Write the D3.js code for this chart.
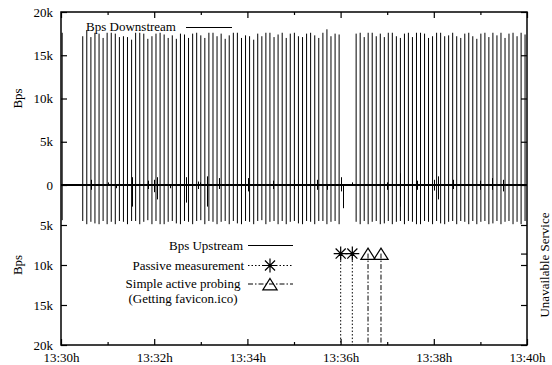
<!DOCTYPE html>
<html>
<head>
<meta charset="utf-8">
<script src="https://cdn.jsdelivr.net/npm/d3@7"></script>
<style>
  body { margin: 0; background: #fff; }
  text { font-family: "Liberation Serif", "Times New Roman", serif; font-size: 13px; fill: #000; }
</style>
</head>
<body>
<svg id="chart" width="552" height="365"></svg>
<script>
// seconds after 13:30:00 for each traffic burst
const spikeTimes = [1.5,
  28.0, 33.2, 38.5, 43.7, 49.0, 54.2, 59.4, 64.7, 69.9, 75.2, 80.4, 85.6, 90.9, 96.1, 101.4, 106.6,
  111.8, 117.1, 122.3, 127.6, 132.8, 138.0, 143.3, 148.5, 153.8, 159.0, 164.2, 169.5, 174.7, 180.0,
  185.2, 190.4, 195.7, 200.9, 206.2, 211.4, 216.6, 221.9, 227.1, 232.4, 237.6, 242.8, 248.1, 253.3,
  258.6, 263.8, 269.0, 274.3, 279.5, 284.8, 290.0, 295.2, 300.5, 305.7, 311.0, 316.2, 321.4, 326.7,
  331.9, 337.2, 342.4, 347.6, 352.9, 358.1,
  380.0, 385.2, 390.4, 395.5, 400.7, 405.9, 411.1, 416.3, 421.4, 426.6, 431.8, 437.0, 442.2, 447.3,
  452.5, 457.7, 462.9, 468.1, 473.2, 478.4, 483.6, 488.8, 494.0, 499.1, 504.3, 509.5, 514.7, 519.9,
  525.0, 530.2, 535.4, 540.6, 545.8, 550.9, 556.1, 561.3, 566.5, 571.7, 576.8, 582.0, 587.2, 592.4, 597.5];

// kBps
const downstreamK = [17.6,
  17.2, 17.9, 17.1, 17.6, 17.5, 17.0, 17.6, 17.6, 17.5, 17.1, 17.2, 17.1, 16.8, 17.6, 17.6, 17.5,
  16.9, 17.2, 17.5, 17.6, 17.4, 17.0, 17.3, 16.9, 17.5, 17.4, 17.0, 17.5, 17.6, 17.3, 17.0, 17.6,
  17.6, 17.2, 17.5, 16.9, 17.3, 17.6, 17.6, 17.0, 17.3, 17.2, 16.8, 17.5, 17.2, 17.6, 17.6, 17.1,
  17.4, 17.6, 17.0, 17.5, 17.6, 17.2, 17.1, 17.5, 17.6, 17.3, 17.0, 17.6, 18.0, 17.2, 17.5, 17.4,
  17.5, 17.6, 17.1, 17.6, 17.6, 17.2, 17.5, 17.1, 17.6, 17.6, 17.2, 17.0, 17.5, 17.6, 17.1, 17.6,
  17.6, 17.5, 17.0, 17.2, 17.6, 17.6, 17.2, 17.3, 17.6, 17.2, 17.0, 17.5, 17.6, 17.2, 16.9, 17.5,
  17.6, 17.1, 17.6, 17.3, 17.6, 17.0, 17.5, 17.6, 17.2, 17.6, 17.4];

const upstreamK = [4.4,
  4.5, 4.9, 4.6, 4.8, 4.9, 4.5, 4.9, 4.6, 4.9, 4.5, 4.6, 4.9, 4.5, 4.5, 4.9, 4.6,
  4.4, 4.9, 4.5, 4.9, 4.9, 4.6, 4.5, 4.8, 4.9, 4.5, 4.6, 4.9, 4.5, 4.4, 4.9, 4.5,
  4.6, 4.9, 4.6, 4.5, 4.9, 4.5, 4.8, 4.9, 4.5, 4.6, 4.9, 4.5, 4.4, 4.9, 4.6, 4.5,
  4.9, 4.5, 4.9, 4.6, 4.5, 4.8, 4.9, 4.5, 4.6, 4.9, 4.5, 4.5, 4.9, 4.6, 4.5, 4.9,
  4.6, 4.9, 4.5, 4.9, 4.6, 4.5, 4.9, 4.8, 4.5, 4.9, 4.6, 4.5, 4.9, 4.5, 4.6, 4.9,
  4.9, 4.5, 4.6, 4.9, 4.5, 4.8, 4.9, 4.6, 4.5, 4.9, 4.5, 4.6, 4.9, 4.5, 4.9, 4.6,
  4.5, 4.9, 4.8, 4.5, 4.9, 4.6, 4.5, 4.9, 4.6, 4.9, 4.5];

// small packets between the bursts
const smallTimes = [38.2, 60.9, 70.8, 91.8, 112.4, 120.1, 124.0, 140.3, 161.0, 176.0, 179.0, 187.6,
  203.4, 241.2, 273.4, 300.4, 330.0, 342.1, 360.1, 363.5, 374.3, 419.4, 436.5, 458.0, 472.9, 480.3,
  485.0, 504.3, 539.5, 554.6, 569.5];
const smallDownK = [0.6, 0.3, 0.0, 0.9, 0.5, 0.6, 0.9, 0.0, 0.9, 0.4, 0.3, 1.0, 0.8, 0.8, 0.5, 0.6,
  0.6, 0.0, 0.9, 0.0, 0.3, 0.3, 1.35, 0.5, 0.0, 0.6, 1.0, 0.6, 0.5, 0.8, 0.6];
const smallUpK = [0.6, 0.0, 0.4, 2.7, 0.5, 0.9, 1.8, 0.4, 2.2, 0.5, 0.0, 2.7, 0.5, 0.8, 0.5, 0.5,
  0.6, 0.6, 0.8, 2.9, 0.0, 0.6, 2.7, 0.6, 0.6, 0.7, 1.8, 0.5, 0.6, 0.6, 0.8];

const passiveTimes = [360.1, 375.1];
const activeTimes = [395.3, 412.0];
const unavailable = 1;

const yTickValues = [0, 5, 10, 15, 20];
const xMajorTicks = [0, 120, 240, 360, 480, 600];
const xMinorTicks = [60, 180, 300, 420, 540];
const xTickLabels = ['13:30h', '13:32h', '13:34h', '13:36h', '13:38h', '13:40h'];

const svg = d3.select('#chart');
const pLeft = 61, pRight = 527, pTop = 12, pZero = 185, pBottom = 345;

const x = d3.scaleLinear().domain([0, 600]).range([pLeft, pRight]);
const yDown = d3.scaleLinear().domain([0, 20]).range([pZero, pTop]);
const yUp = d3.scaleLinear().domain([0, 20]).range([pZero, pBottom]);
const yAvail = d3.scaleLinear().domain([0, 1.75]).range([pBottom, pZero]);

const kFmt = v => v === 0 ? '0' : v + 'k';

// impulses
const bursts = spikeTimes.map((t, i) => ({ t, down: downstreamK[i], up: upstreamK[i] }));
const small = smallTimes.map((t, i) => ({ t, down: smallDownK[i], up: smallUpK[i] }));

const g = svg.append('g').attr('stroke', '#000').attr('stroke-width', 1);
g.selectAll('.dn').data(bursts).enter().append('line')
  .attr('x1', d => x(d.t)).attr('x2', d => x(d.t))
  .attr('y1', yDown(0)).attr('y2', d => yDown(d.down));
g.selectAll('.up').data(bursts).enter().append('line')
  .attr('x1', d => x(d.t)).attr('x2', d => x(d.t))
  .attr('y1', yUp(0)).attr('y2', d => yUp(d.up));
g.selectAll('.sdn').data(small.filter(d => d.down > 0)).enter().append('line')
  .attr('x1', d => Math.round(x(d.t)) + 0.5).attr('x2', d => Math.round(x(d.t)) + 0.5)
  .attr('y1', yDown(0)).attr('y2', d => yDown(d.down));
g.selectAll('.sup').data(small.filter(d => d.up > 0)).enter().append('line')
  .attr('x1', d => Math.round(x(d.t)) + 0.5).attr('x2', d => Math.round(x(d.t)) + 0.5)
  .attr('y1', yUp(0)).attr('y2', d => yUp(d.up));

// markers
function asterisk(r) {
  const a = r * 0.72;
  return `M${-r},0H${r}M0,${-r}V${r}M${-a},${-a}L${a},${a}M${-a},${a}L${a},${-a}`;
}
function triangle(r) {
  return `M0,${-r}L${r * 1.1},${r * 0.75}H${-r * 1.1}Z`;
}

const mk = svg.append('g').attr('stroke', '#000').attr('fill', 'none');
mk.selectAll('.pl').data(passiveTimes).enter().append('line')
  .attr('x1', d => x(d)).attr('x2', d => x(d))
  .attr('y1', yAvail(unavailable)).attr('y2', yAvail(0))
  .attr('stroke-width', 1).attr('stroke-dasharray', '1.5,2');
mk.selectAll('.al').data(activeTimes).enter().append('line')
  .attr('x1', d => x(d)).attr('x2', d => x(d))
  .attr('y1', yAvail(unavailable)).attr('y2', yAvail(0))
  .attr('stroke-width', 1).attr('stroke-dasharray', '5,2,1.5,2');
mk.selectAll('.pm').data(passiveTimes).enter().append('path')
  .attr('d', asterisk(7))
  .attr('transform', d => `translate(${x(d)},${yAvail(unavailable)})`)
  .attr('stroke-width', 1.2);
mk.selectAll('.am').data(activeTimes).enter().append('path')
  .attr('d', triangle(6.5))
  .attr('transform', d => `translate(${x(d)},${yAvail(unavailable) + 1})`)
  .attr('stroke-width', 1.2);

// axes
function styleAxis(sel) {
  sel.select('.domain').remove();
  sel.selectAll('line').attr('stroke', '#000').attr('stroke-width', 1.2);
  sel.selectAll('text').attr('font-size', null).attr('font-family', null).attr('fill', '#000');
}

svg.append('g').attr('transform', `translate(${pLeft},0)`)
  .call(d3.axisLeft(yDown).tickValues(yTickValues).tickFormat(kFmt).tickSizeInner(-6).tickPadding(8))
  .call(styleAxis);
svg.append('g').attr('transform', `translate(${pLeft},0)`)
  .call(d3.axisLeft(yUp).tickValues(yTickValues.slice(1)).tickFormat(kFmt).tickSizeInner(-6).tickPadding(8))
  .call(styleAxis);
svg.append('g').attr('transform', `translate(${pRight},0)`)
  .call(d3.axisRight(yDown).tickValues(yTickValues).tickFormat('').tickSizeInner(-6))
  .call(styleAxis);
svg.append('g').attr('transform', `translate(${pRight},0)`)
  .call(d3.axisRight(yUp).tickValues(yTickValues.slice(1)).tickFormat('').tickSizeInner(-6))
  .call(styleAxis);
svg.append('g').attr('transform', `translate(${pRight},0)`)
  .call(d3.axisRight(yAvail).tickValues([unavailable]).tickFormat('').tickSizeInner(-6))
  .call(styleAxis);

svg.append('g').attr('transform', `translate(0,${pBottom})`)
  .call(d3.axisBottom(x).tickValues(xMajorTicks).tickFormat((d, i) => xTickLabels[i]).tickSizeInner(-6).tickPadding(8))
  .call(styleAxis);
svg.append('g').attr('transform', `translate(0,${pBottom})`)
  .call(d3.axisBottom(x).tickValues(xMinorTicks).tickFormat('').tickSizeInner(-3))
  .call(styleAxis);
svg.append('g').attr('transform', `translate(0,${pTop})`)
  .call(d3.axisTop(x).tickValues(xMajorTicks).tickFormat('').tickSizeInner(-6))
  .call(styleAxis);
svg.append('g').attr('transform', `translate(0,${pTop})`)
  .call(d3.axisTop(x).tickValues(xMinorTicks).tickFormat('').tickSizeInner(-3))
  .call(styleAxis);

// frame and zero line
svg.append('rect').attr('x', pLeft).attr('y', pTop).attr('width', pRight - pLeft).attr('height', pBottom - pTop)
  .attr('fill', 'none').attr('stroke', '#000').attr('stroke-width', 1.5);
svg.append('line').attr('x1', pLeft).attr('x2', pRight).attr('y1', pZero).attr('y2', pZero)
  .attr('stroke', '#000').attr('stroke-width', 2);

// axis titles
svg.append('text').attr('transform', `translate(22,${(pTop + pZero) / 2}) rotate(-90)`)
  .attr('text-anchor', 'middle').text('Bps');
svg.append('text').attr('transform', `translate(22,${(pZero + pBottom) / 2}) rotate(-90)`)
  .attr('text-anchor', 'middle').text('Bps');
svg.append('text').attr('transform', `translate(549,${(pZero + pBottom) / 2}) rotate(-90)`)
  .attr('text-anchor', 'middle').text('Unavailable Service');

// keys
svg.append('text').attr('x', 176).attr('y', 31).attr('text-anchor', 'end').text('Bps Downstream');
svg.append('line').attr('x1', 186).attr('x2', 232).attr('y1', 27.5).attr('y2', 27.5)
  .attr('stroke', '#000').attr('stroke-width', 1);

const key = svg.append('g');
key.append('text').attr('x', 243).attr('y', 250).attr('text-anchor', 'end').text('Bps Upstream');
key.append('line').attr('x1', 248).attr('x2', 293).attr('y1', 245.5).attr('y2', 245.5).attr('stroke', '#000');
key.append('text').attr('x', 244).attr('y', 270).attr('text-anchor', 'end').text('Passive measurement');
key.append('line').attr('x1', 248).attr('x2', 293).attr('y1', 265.5).attr('y2', 265.5)
  .attr('stroke', '#000').attr('stroke-dasharray', '1.5,2');
key.append('path').attr('d', asterisk(7)).attr('transform', 'translate(270,265.5)')
  .attr('stroke', '#000').attr('stroke-width', 1.2).attr('fill', 'none');
key.append('text').attr('x', 183).attr('y', 288).attr('text-anchor', 'middle').text('Simple active probing');
key.append('text').attr('x', 183).attr('y', 303).attr('text-anchor', 'middle').text('(Getting favicon.ico)');
key.append('line').attr('x1', 248).attr('x2', 293).attr('y1', 284).attr('y2', 284)
  .attr('stroke', '#000').attr('stroke-dasharray', '5,2,1.5,2');
key.append('path').attr('d', triangle(6.5)).attr('transform', 'translate(270,285)')
  .attr('stroke', '#000').attr('stroke-width', 1.2).attr('fill', 'none');
</script>
</body>
</html>
